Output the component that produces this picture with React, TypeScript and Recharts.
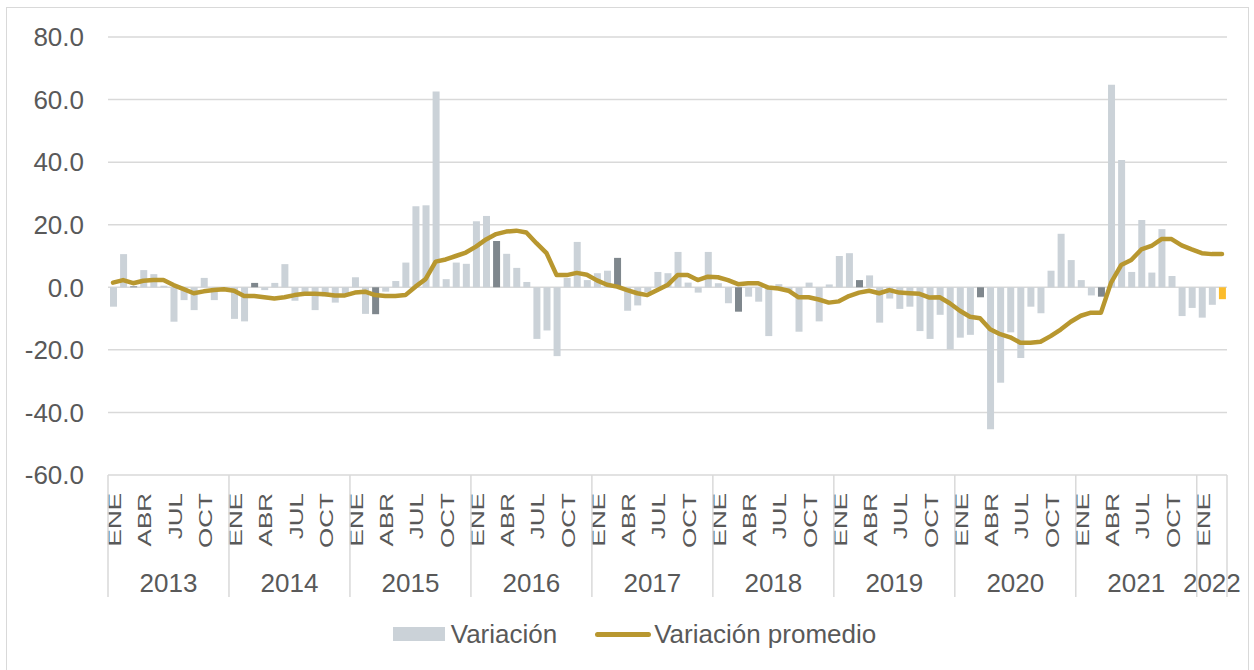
import { ComposedChart, Bar, Line, XAxis, YAxis, CartesianGrid, Legend, Cell } from "recharts"

const anios = [2013, 2014, 2015, 2016, 2017, 2018, 2019, 2020, 2021, 2022]
const mesesPorAnio = [12, 12, 12, 12, 12, 12, 12, 12, 12, 3]
const meses = ["ENE", "FEB", "MAR", "ABR", "MAY", "JUN", "JUL", "AGO", "SEP", "OCT", "NOV", "DIC"]
const mesesConEtiqueta = ["ENE", "ABR", "JUL", "OCT"]
const yTicks = [-60, -40, -20, 0, 20, 40, 60, 80]

// variación mensual (barras), ene-2013 a mar-2022
const variacion = [
  -6.2, 10.6, 0.3, 5.5, 4.2, 0.5, -11.0, -4.1, -7.3, 3.0, -4.1, -1.0,
  -10.1, -10.9, 1.4, -0.9, 1.4, 7.4, -4.3, -1.6, -7.3, -2.9, -4.9, -2.0,
  3.2, -8.5, -8.6, -1.4, 2.0, 7.9, 25.9, 26.2, 62.6, 2.6, 7.9, 7.5,
  21.1, 22.8, 14.8, 10.7, 6.2, 1.7, -16.5, -13.8, -22.0, 3.0, 14.5, 2.3,
  4.5, 5.3, 9.4, -7.5, -5.8, -1.5, 4.9, 4.5, 11.3, 1.5, -1.7, 11.3,
  1.3, -5.1, -7.8, -3.0, -4.6, -15.6, 1.0, -1.0, -14.2, 1.5, -10.9, 0.9,
  10.0, 10.9, 2.3, 3.8, -11.3, -3.6, -6.9, -6.2, -14.0, -16.5, -8.8, -19.8,
  -16.1, -15.2, -3.2, -45.4, -30.5, -14.4, -22.6, -6.2, -8.3, 5.3, 17.1, 8.7,
  2.3, -2.6, -3.0, 64.7, 40.7, 4.9, 21.5, 4.7, 18.6, 3.6, -9.2, -6.6,
  -9.7, -5.6, -3.8,
]

// variación promedio (línea)
const variacionPromedio = [
  1.5, 2.3, 1.3, 2.1, 2.3, 2.3, 0.7, -0.6, -1.9, -1.3, -0.9, -0.6,
  -1.1, -2.8, -2.8, -3.2, -3.6, -3.2, -2.5, -2.1, -2.1, -2.2, -2.6, -2.6,
  -1.7, -1.4, -2.5, -2.8, -2.8, -2.5, 0.2, 2.6, 8.2, 8.9, 10.0, 11.1,
  13.0, 15.3, 17.0, 17.8, 18.1, 17.5, 14.1, 10.9, 3.9, 3.9, 4.6, 4.0,
  2.2, 0.8, 0.2, -0.9, -1.9, -2.5, -0.9, 0.7, 3.9, 3.9, 2.3, 3.4,
  3.2, 2.3, 1.0, 1.3, 1.3, -0.1, -0.4, -1.1, -3.2, -3.2, -3.9, -4.9,
  -4.5, -2.8, -1.7, -1.1, -1.9, -0.9, -1.7, -1.9, -2.1, -3.3, -3.2, -5.1,
  -7.5, -9.4, -9.9, -13.4, -15.0, -16.0, -17.7, -17.7, -17.4, -15.6, -13.5, -11.0,
  -9.1, -8.1, -8.1, 1.5, 7.1, 8.7, 12.1, 13.2, 15.4, 15.4, 13.4, 12.1,
  10.9, 10.6, 10.6,
]

const data = anios
  .flatMap((anio, a) => meses.slice(0, mesesPorAnio[a]).map((mes) => ({ id: `${mes} ${anio}`, mes })))
  .map((d, i) => ({ ...d, variacion: variacion[i], promedio: variacionPromedio[i] }))

const FONT = "'Liberation Sans', Arial, sans-serif"
const TEXT = "#595959"
const GRID = "#D9D9D9"
const GRIS = "#CBD2D8"
const OSCURO = "#7F878D"
const AMARILLO = "#FBBC2C"
const ORO = "#B8972F"

const W = 1254
const H = 670
const LEFT = 108
const RIGHT = 27
const PLOT_BOTTOM = 475
const SEP_BOTTOM = 597
const BAND = (W - LEFT - RIGHT) / data.length

function MonthTick({ x, y, payload }: any) {
  const mes = String(payload.value).split(" ")[0]
  if (!mesesConEtiqueta.includes(mes)) return <g />
  return (
    <text
      transform={`translate(${x + 8},${y + 10}) rotate(-90) scale(1,0.7)`}
      textAnchor="end"
      fontSize={26}
      fontFamily={FONT}
      fill={TEXT}
    >
      {mes}
    </text>
  )
}

function YearTick({ x, y, payload }: any) {
  const [mes, anioStr] = String(payload.value).split(" ")
  const a = anios.indexOf(Number(anioStr))
  const m = meses.indexOf(mes)
  const n = mesesPorAnio[a]
  const mid = (n - 1) / 2
  return (
    <g>
      {m === 0 && (
        <line x1={x - BAND / 2} x2={x - BAND / 2} y1={PLOT_BOTTOM} y2={SEP_BOTTOM} stroke={GRID} strokeWidth={1.5} />
      )}
      {a === anios.length - 1 && m === n - 1 && (
        <line x1={x + BAND / 2} x2={x + BAND / 2} y1={PLOT_BOTTOM} y2={SEP_BOTTOM} stroke={GRID} strokeWidth={1.5} />
      )}
      {m === Math.floor(mid) && (
        <text x={x + (mid - m) * BAND} y={y + 29} textAnchor="middle" fontSize={26} fontFamily={FONT} fill={TEXT}>
          {anioStr}
        </text>
      )}
    </g>
  )
}

const LegendContent = () => (
  <div
    style={{
      display: "flex",
      justifyContent: "center",
      alignItems: "center",
      height: 44,
      paddingLeft: 15,
      fontFamily: FONT,
      fontSize: 26,
      color: TEXT,
    }}
  >
    <span style={{ display: "inline-block", width: 52, height: 14, background: GRIS, marginRight: 6 }} />
    <span>Variación</span>
    <span
      style={{ display: "inline-block", width: 56, height: 5, background: ORO, borderRadius: 3, marginLeft: 38, marginRight: 3 }}
    />
    <span>Variación promedio</span>
  </div>
)

export default function App() {
  return (
    <div style={{ position: "absolute", left: 0, top: 0, width: W, height: H, overflow: "hidden", background: "#fff" }}>
      <div
        style={{
          position: "absolute",
          left: 6,
          top: 7,
          width: 1243,
          height: 700,
          border: `1.5px solid ${GRID}`,
          boxSizing: "border-box",
        }}
      />
      <div style={{ position: "absolute", left: 0, top: 0 }}>
        <ComposedChart
          width={W}
          height={H}
          data={data}
          margin={{ top: 37, right: RIGHT, bottom: 21, left: 0 }}
          style={{ fontFamily: FONT }}
        >
          <CartesianGrid vertical={false} stroke={GRID} strokeWidth={1.5} />
          <XAxis
            xAxisId={0}
            dataKey="id"
            interval={0}
            tick={<MonthTick />}
            tickLine={false}
            axisLine={false}
            height={80}
          />
          <XAxis
            xAxisId={1}
            dataKey="id"
            interval={0}
            tick={<YearTick />}
            tickLine={false}
            axisLine={false}
            height={50}
          />
          <YAxis
            domain={[-60, 80]}
            ticks={yTicks}
            tickFormatter={(v: number) => v.toFixed(1)}
            width={LEFT}
            axisLine={false}
            tickLine={false}
            tickMargin={18}
            tick={{ fontSize: 26, fill: TEXT, fontFamily: FONT }}
          />
          <Bar xAxisId={0} dataKey="variacion" name="Variación" fill={GRIS} barSize={7} isAnimationActive={false}>
            {data.map((d, i) => (
              <Cell key={d.id} fill={i === data.length - 1 ? AMARILLO : d.mes === "MAR" ? OSCURO : GRIS} />
            ))}
          </Bar>
          <Line
            xAxisId={0}
            type="linear"
            dataKey="promedio"
            name="Variación promedio"
            stroke={ORO}
            strokeWidth={4.5}
            strokeLinejoin="round"
            strokeLinecap="round"
            dot={false}
            activeDot={false}
            isAnimationActive={false}
          />
          <Legend content={<LegendContent />} wrapperStyle={{ left: 0, width: W, top: 612 }} />
        </ComposedChart>
      </div>
    </div>
  )
}
